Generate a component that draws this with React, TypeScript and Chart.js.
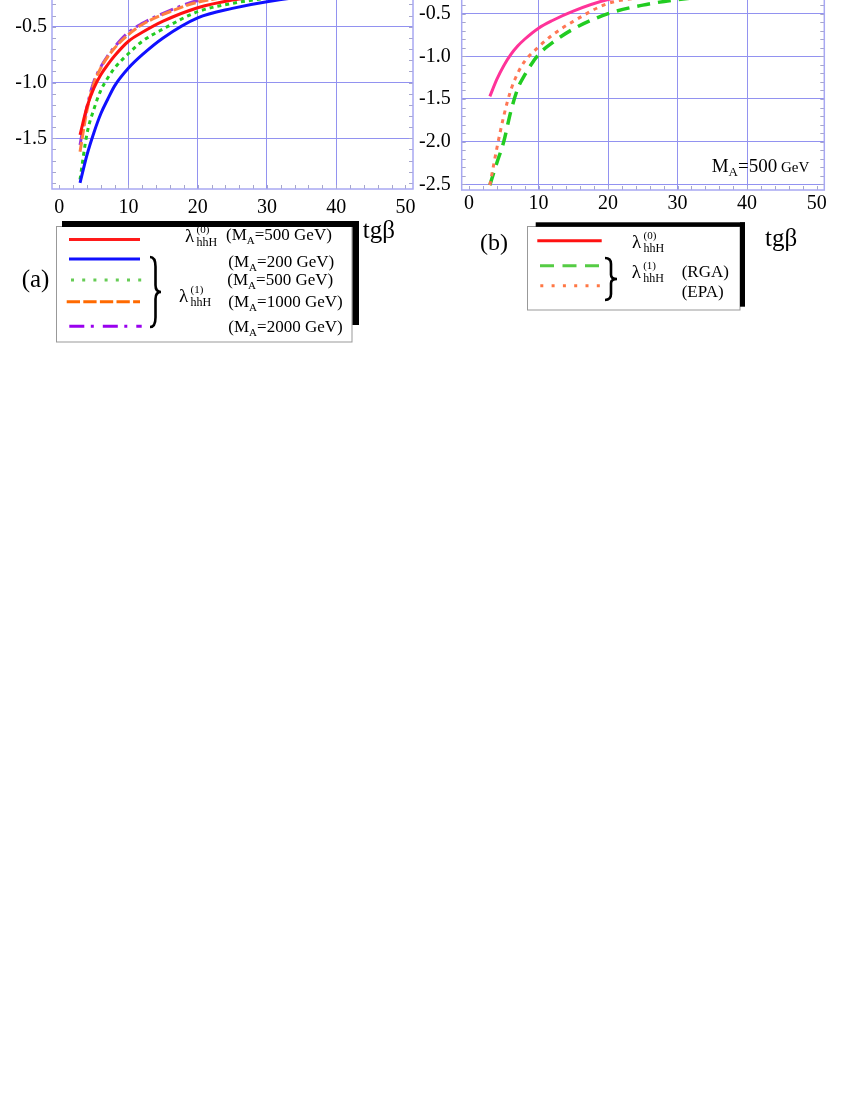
import React, { useEffect, useRef } from "react";
import { Chart, registerables } from "chart.js";
Chart.register(...registerables);

// ---------- data ----------
const tanBeta = [3, 4, 5, 6, 7, 8, 10, 12, 15, 20, 25, 30, 40, 50];

// panel (a)
const lam0Ma500 = [-1.47, -1.22, -1.05, -0.93, -0.84, -0.76, -0.63, -0.55, -0.45, -0.33, -0.26, -0.22, -0.16, -0.13];
const lam1Ma200 = [-1.9, -1.65, -1.45, -1.28, -1.15, -1.03, -0.87, -0.75, -0.6, -0.42, -0.335, -0.275, -0.2, -0.16];
const lam1Ma500 = [-1.87, -1.46, -1.24, -1.07, -0.96, -0.87, -0.74, -0.63, -0.52, -0.365, -0.29, -0.245, -0.18, -0.15];
const lam1Ma1000 = [-1.62, -1.25, -1.01, -0.87, -0.77, -0.69, -0.57, -0.48, -0.39, -0.28, -0.23, -0.19, -0.14, -0.11];
const lam1Ma2000 = [-1.56, -1.22, -0.99, -0.86, -0.76, -0.68, -0.55, -0.47, -0.38, -0.265, -0.22, -0.18, -0.13, -0.1];

// panel (b)
const lam0B = [-1.47, -1.27, -1.11, -0.98, -0.88, -0.8, -0.67, -0.58, -0.47, -0.335, -0.27, -0.22, -0.16, -0.13];
const lam1RGA = [-2.51, -2.25, -2.0, -1.65, -1.38, -1.22, -0.98, -0.84, -0.68, -0.5, -0.4, -0.335, -0.26, -0.21];
const lam1EPA = [-2.51, -2.08, -1.7, -1.4, -1.2, -1.06, -0.89, -0.75, -0.59, -0.38, -0.31, -0.26, -0.19, -0.15];

const xTicks = [0, 10, 20, 30, 40, 50];
const yTicksA = [-1.5, -1.0, -0.5];
const yTicksB = [-2.5, -2.0, -1.5, -1.0, -0.5];

const SERIF = "'Liberation Serif', 'Times New Roman', serif";
const GRID = "#9292f0";
const FRAME = "#a8a8f2";
const MINOR = "#a6a6cc";

function frange(a: number, b: number, s: number) {
  const out: number[] = [];
  for (let v = a; v <= b + 1e-9; v += s) out.push(Math.round(v * 100) / 100);
  return out;
}

function framePlugin(xMinor: number[], yMinor: number[]) {
  return {
    id: "frameMinor",
    afterDraw(chart: any) {
      const { ctx, chartArea: a, scales } = chart;
      ctx.save();
      ctx.strokeStyle = MINOR;
      ctx.lineWidth = 1;
      ctx.beginPath();
      for (const v of yMinor) {
        const p = Math.round(scales.y.getPixelForValue(v)) + 0.5;
        if (p < a.top || p > a.bottom) continue;
        ctx.moveTo(a.left, p);
        ctx.lineTo(a.left + 4, p);
        ctx.moveTo(a.right - 4, p);
        ctx.lineTo(a.right, p);
      }
      for (const v of xMinor) {
        const p = Math.round(scales.x.getPixelForValue(v)) + 0.5;
        if (p < a.left || p > a.right) continue;
        ctx.moveTo(p, a.bottom);
        ctx.lineTo(p, a.bottom - 4);
      }
      ctx.stroke();
      ctx.strokeStyle = FRAME;
      ctx.lineWidth = 1.5;
      ctx.strokeRect(a.left, a.top, a.right - a.left, a.bottom - a.top);
      ctx.restore();
    },
  };
}

type Series = { values: number[]; color: string; width: number; dash: number[] };

type PanelProps = {
  left: number;
  top: number;
  width: number;
  height: number;
  series: Series[];
  yMin: number;
  yMax: number;
  yTicks: number[];
  yWidth: number;
  xHeight: number;
  padTop: number;
  padRight: number;
  yPad: number;
  xPad: number;
};

function Panel(p: PanelProps) {
  const ref = useRef<HTMLCanvasElement | null>(null);
  useEffect(() => {
    if (!ref.current) return;
    const datasets = p.series.map((s) => ({
      data: tanBeta.map((x, i) => ({ x, y: s.values[i] })),
      borderColor: s.color,
      borderWidth: s.width,
      borderDash: s.dash,
      pointRadius: 0,
      tension: 0.4,
      cubicInterpolationMode: "monotone" as const,
      fill: false,
    }));
    const chart = new Chart(ref.current, {
      type: "line",
      data: { datasets },
      options: {
        animation: false,
        responsive: false,
        devicePixelRatio: 1,
        layout: { padding: { top: p.padTop, right: p.padRight, left: 0, bottom: 0 } },
        plugins: { legend: { display: false }, tooltip: { enabled: false } },
        scales: {
          x: {
            type: "linear",
            min: -1.05,
            max: 51.1,
            afterBuildTicks: (s: any) => {
              s.ticks = xTicks.map((v) => ({ value: v }));
            },
            afterFit: (s: any) => {
              s.height = p.xHeight;
            },
            grid: {
              drawTicks: false,
              lineWidth: 1,
              color: (c: any) => (c.tick && (c.tick.value === 0 || c.tick.value === 50) ? "rgba(0,0,0,0)" : GRID),
            },
            border: { display: false },
            ticks: {
              color: "#000",
              padding: p.xPad,
              maxRotation: 0,
              autoSkip: false,
              font: { family: SERIF, size: 20 },
              callback: (v: any) => String(v),
            },
          },
          y: {
            type: "linear",
            min: p.yMin,
            max: p.yMax,
            afterBuildTicks: (s: any) => {
              s.ticks = p.yTicks.map((v) => ({ value: v }));
            },
            afterFit: (s: any) => {
              s.width = p.yWidth;
            },
            grid: { drawTicks: false, lineWidth: 1, color: GRID },
            border: { display: false },
            ticks: {
              color: "#000",
              padding: p.yPad,
              autoSkip: false,
              font: { family: SERIF, size: 20 },
              callback: (v: any) => Number(v).toFixed(1),
            },
          },
        },
      },
      plugins: [framePlugin(frange(0, 50, 2), frange(-2.6, -0.1, 0.1))],
    } as any);
    return () => chart.destroy();
  }, []);
  return (
    <canvas
      ref={ref}
      width={p.width}
      height={p.height}
      style={{ position: "absolute", left: p.left, top: p.top, width: p.width, height: p.height }}
    />
  );
}

function Brace({ x0, x1, y0, y1 }: { x0: number; x1: number; y0: number; y1: number }) {
  const xm = (x0 + x1) / 2;
  const ym = (y0 + y1) / 2;
  const h = y1 - y0;
  const d = `M${x0},${y0} Q${xm},${y0} ${xm},${y0 + h * 0.14} L${xm},${ym - h * 0.1} Q${xm},${ym} ${x1},${ym} Q${xm},${ym} ${xm},${ym + h * 0.1} L${xm},${y1 - h * 0.14} Q${xm},${y1} ${x0},${y1}`;
  return <path d={d} fill="none" stroke="#000" strokeWidth={2.6} />;
}

function MaLabel({ x, y, v }: { x: number; y: number; v: string }) {
  return (
    <text x={x} y={y} fontSize={17}>
      (M
      <tspan fontSize={11} dy={4}>
        A
      </tspan>
      <tspan dy={-4}>={v} GeV)</tspan>
    </text>
  );
}

function Lambda({ x, y, sup }: { x: number; y: number; sup: string }) {
  return (
    <g>
      <text x={x} y={y} fontSize={19}>
        λ
      </text>
      <text x={x + 11.5} y={y - 9} fontSize={11}>
        ({sup})
      </text>
      <text x={x + 11.5} y={y + 4} fontSize={12}>
        hhH
      </text>
    </g>
  );
}

export default function App() {
  const seriesA: Series[] = [
    { values: lam0Ma500, color: "#ff1010", width: 3, dash: [] },
    { values: lam1Ma200, color: "#1010ff", width: 3, dash: [] },
    { values: lam1Ma500, color: "#22cc22", width: 3, dash: [4, 4] },
    { values: lam1Ma1000, color: "#ff8040", width: 3, dash: [10, 3] },
    { values: lam1Ma2000, color: "#9933dd", width: 3, dash: [14, 5, 3, 5] },
  ];
  const seriesB: Series[] = [
    { values: lam0B, color: "#ff3399", width: 3, dash: [] },
    { values: lam1EPA, color: "#ff7755", width: 3, dash: [4, 5] },
    { values: lam1RGA, color: "#22cc22", width: 3.5, dash: [13, 8] },
  ];
  return (
    <div
      style={{
        position: "absolute",
        left: 0,
        top: 0,
        width: 854,
        height: 1105,
        overflow: "hidden",
        background: "#fff",
        fontFamily: SERIF,
      }}
    >
      <Panel
        left={0}
        top={-69.1}
        width={425}
        height={289.1}
        series={seriesA}
        yMin={-1.955}
        yMax={0}
        yTicks={yTicksA}
        yWidth={52}
        xHeight={31}
        padTop={40}
        padRight={12}
        yPad={5}
        xPad={7}
      />
      <Panel
        left={405}
        top={-69.45}
        width={449}
        height={289.45}
        series={seriesB}
        yMin={-2.567}
        yMax={0}
        yTicks={yTicksB}
        yWidth={56.7}
        xHeight={30}
        padTop={40}
        padRight={29.7}
        yPad={11}
        xPad={2}
      />
      <svg
        width={854}
        height={1105}
        style={{ position: "absolute", left: 0, top: 0, pointerEvents: "none" }}
        fontFamily={SERIF}
      >
        {/* panel (b) inset text */}
        <text x={711.7} y={171.5} fontSize={19}>
          M
          <tspan fontSize={13} dy={4}>
            A
          </tspan>
          <tspan dy={-4}>=500</tspan>
          <tspan fontSize={15}> GeV</tspan>
        </text>

        {/* legend (a) */}
        <rect x={56.5} y={226.5} width={295.5} height={115.5} fill="#fff" stroke="#999" strokeWidth={1} />
        <rect x={62} y={221} width={297} height={6} fill="#000" />
        <rect x={352.5} y={221} width={6.5} height={104} fill="#000" />
        <line x1={69} x2={140} y1={239.5} y2={239.5} stroke="#ff1a1a" strokeWidth={3} />
        <line x1={69} x2={140} y1={259} y2={259} stroke="#1010ff" strokeWidth={3} />
        <line x1={71} x2={142} y1={280} y2={280} stroke="#66cc55" strokeWidth={3} strokeDasharray="3 8.2" />
        <line x1={66.7} x2={140} y1={301.7} y2={301.7} stroke="#ff6a00" strokeWidth={3} strokeDasharray="13.3 3.3" />
        <line x1={69.3} x2={141.7} y1={326.3} y2={326.3} stroke="#9900ee" strokeWidth={3} strokeDasharray="15 6.5 3 9" />
        <Brace x0={150} x1={161} y0={257} y1={327} />
        <Lambda x={185} y={242} sup="0" />
        <Lambda x={179} y={302} sup="1" />
        <MaLabel x={226} y={239.6} v="500" />
        <MaLabel x={228.3} y={266.6} v="200" />
        <MaLabel x={227.3} y={285} v="500" />
        <MaLabel x={228.3} y={307.3} v="1000" />
        <MaLabel x={228.3} y={331.6} v="2000" />
        <text x={21.7} y={286.7} fontSize={25}>
          (a)
        </text>
        <text x={362.7} y={238} fontSize={25}>
          tgβ
        </text>

        {/* legend (b) */}
        <rect x={527.5} y={226.5} width={212.5} height={83.5} fill="#fff" stroke="#999" strokeWidth={1} />
        <rect x={535.7} y={222.3} width={209.3} height={4.5} fill="#000" />
        <rect x={740} y={222.3} width={5} height={84.4} fill="#000" />
        <line x1={537.3} x2={601.7} y1={240.7} y2={240.7} stroke="#ff1111" strokeWidth={3} />
        <line x1={540} x2={600} y1={265.7} y2={265.7} stroke="#55cc44" strokeWidth={3} strokeDasharray="14 8.5" />
        <line x1={540.3} x2={600} y1={285.7} y2={285.7} stroke="#ff7744" strokeWidth={3} strokeDasharray="3 8.3" />
        <Brace x0={605} x1={617} y0={258} y1={300} />
        <Lambda x={632} y={248.3} sup="0" />
        <Lambda x={631.7} y={278} sup="1" />
        <text x={681.7} y={277} fontSize={17}>
          (RGA)
        </text>
        <text x={681.7} y={297} fontSize={17}>
          (EPA)
        </text>
        <text x={480} y={250.2} fontSize={24}>
          (b)
        </text>
        <text x={765} y={246} fontSize={25}>
          tgβ
        </text>
      </svg>
    </div>
  );
}
